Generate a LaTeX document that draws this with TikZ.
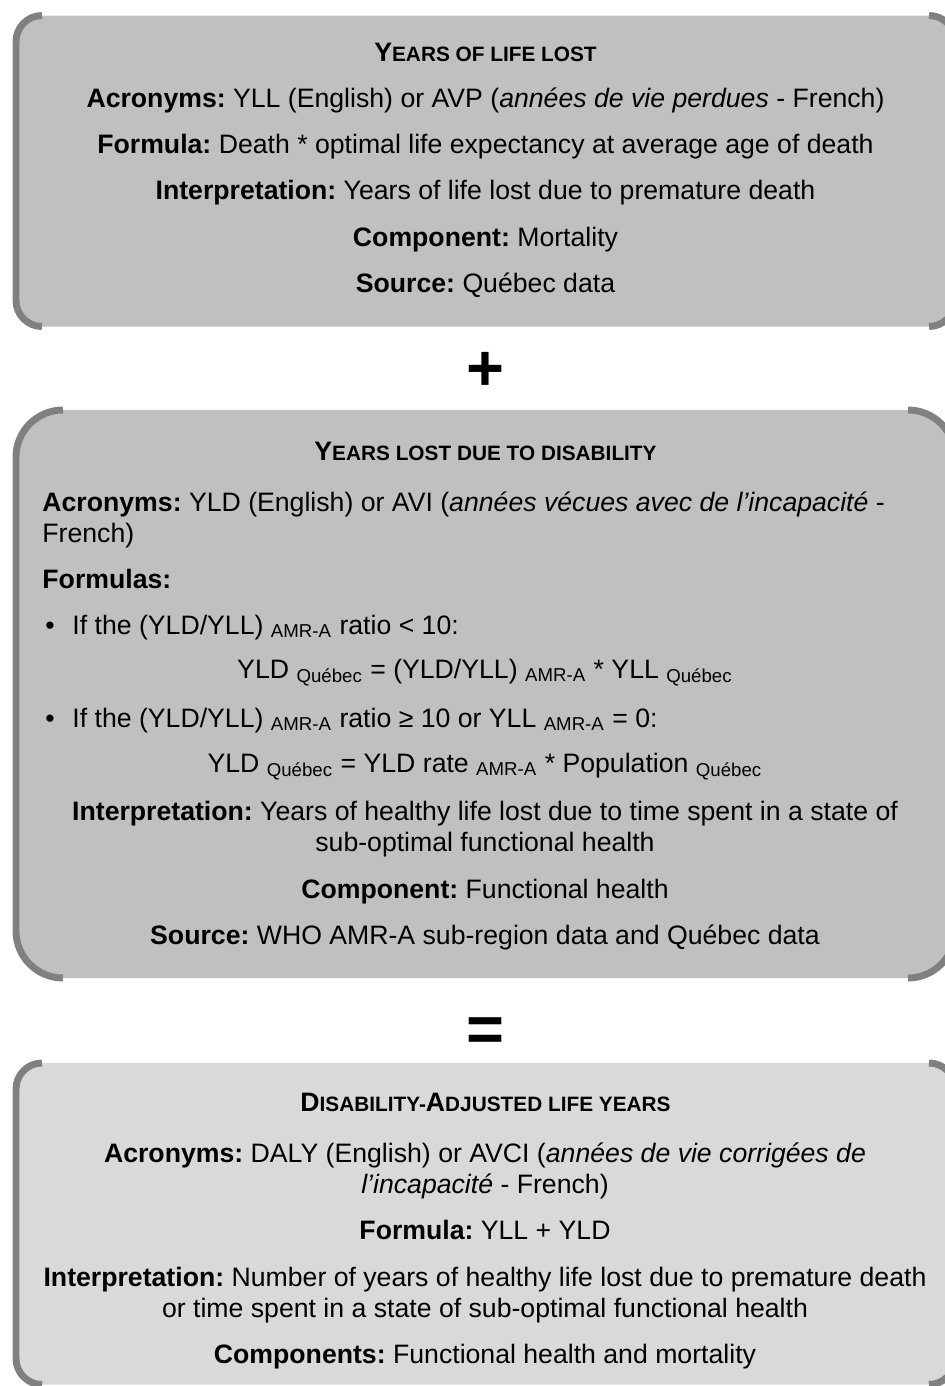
\documentclass[tikz,border=0pt]{standalone}
\usepackage{fontspec}
\setmainfont{Liberation Sans}
\usepackage{xcolor}
\usepackage{tikz}

\definecolor{boxgray}{HTML}{C0C0C0}
\definecolor{boxlight}{HTML}{D9D9D9}
\definecolor{rimgray}{HTML}{808080}
\newcommand{\smallcap}[2]{\textbf{#1{\fontsize{9.6}{11}\selectfont #2}}}
\frenchspacing

\begin{document}
\begin{tikzpicture}[scale=0.1622]
\tikzstyle{every node}+=[inner sep=0pt]
\tikzstyle{rim}=[rimgray, line width=3.2pt]
\tikzstyle{txt}=[anchor=base, font=\fontsize{12.3}{14.7}\selectfont]
\tikzstyle{ltxt}=[anchor=base west, font=\fontsize{12.3}{14.7}\selectfont]
\tikzstyle{sign}=[font=\fontsize{30}{30}\selectfont\bfseries]
\useasboundingbox (0,0) rectangle (94.5,-138.6);
\clip (0,0) rectangle (94.5,-138.6);
% years of life lost
\fill [boxgray, rounded corners=12pt] (1.6,-1.55) rectangle (95.5,-32.65);
\draw [rim] (4.2,-1.55) arc (90:180:2.6) -- (1.6,-30.05) arc (180:270:2.6);
\draw [rim] (92.9,-1.55) arc (90:0:2.6) -- (95.5,-30.05) arc (0:-90:2.6);
\draw (48.55,-6.1) node [txt] (ttlYLL) {\smallcap{Y}{EARS OF LIFE LOST}};
\draw (48.55,-10.7) node [txt] (acrYLL) {\textbf{Acronyms:} YLL (English) or AVP (\textit{années de vie perdues} - French)};
\draw (48.55,-15.3) node [txt] (frmYLL) {\textbf{Formula:} Death * optimal life expectancy at average age of death};
\draw (48.55,-19.95) node [txt] (intYLL) {\textbf{Interpretation:} Years of life lost due to premature death};
\draw (48.55,-24.6) node [txt] (cmpYLL) {\textbf{Component:} Mortality};
\draw (48.55,-29.25) node [txt] (srcYLL) {\textbf{Source:} Québec data};
\draw (48.5,-37.1) node [sign] (plus) {+};
% years lost due to disability
\fill [boxgray, rounded corners=21.7pt] (1.6,-41.0) rectangle (95.5,-97.8);
\draw [rim] (6.3,-41.0) arc (90:180:4.7) -- (1.6,-93.1) arc (180:270:4.7);
\draw [rim] (90.8,-41.0) arc (90:0:4.7) -- (95.5,-93.1) arc (0:-90:4.7);
\draw (48.55,-46.0) node [txt] (ttlYLD) {\smallcap{Y}{EARS LOST DUE TO DISABILITY}};
\draw (4.2,-51.1) node [ltxt] (acrYLDa) {\textbf{Acronyms:} YLD (English) or AVI (\textit{années vécues avec de l’incapacité} -};
\draw (4.2,-54.2) node [ltxt] (acrYLDb) {French)};
\draw (4.2,-58.8) node [ltxt] (frmYLD) {\textbf{Formulas:}};
\draw (5.0,-63.4) node [txt] (dotA) {•};
\draw (7.2,-63.4) node [ltxt] (ifA) {If the (YLD/YLL) \textsubscript{AMR-A} ratio < 10:};
\draw (48.5,-67.8) node [txt] (eqA) {YLD \textsubscript{Québec} = (YLD/YLL) \textsubscript{AMR-A} * YLL \textsubscript{Québec}};
\draw (5.0,-72.7) node [txt] (dotB) {•};
\draw (7.2,-72.7) node [ltxt] (ifB) {If the (YLD/YLL) \textsubscript{AMR-A} ratio ≥ 10 or YLL \textsubscript{AMR-A} = 0:};
\draw (48.5,-77.2) node [txt] (eqB) {YLD \textsubscript{Québec} = YLD rate \textsubscript{AMR-A} * Population \textsubscript{Québec}};
\draw (48.5,-82.05) node [txt] (intYLDa) {\textbf{Interpretation:} Years of healthy life lost due to time spent in a state of};
\draw (48.5,-85.15) node [txt] (intYLDb) {sub-optimal functional health};
\draw (48.5,-89.8) node [txt] (cmpYLD) {\textbf{Component:} Functional health};
\draw (48.5,-94.4) node [txt] (srcYLD) {\textbf{Source:} WHO AMR-A sub-region data and Québec data};
\draw (48.5,-103.5) node [sign] (equal) {=};
% disability-adjusted life years
\fill [boxlight, rounded corners=12pt] (1.6,-106.3) rectangle (95.5,-138.45);
\draw [rim] (4.2,-106.3) arc (90:180:2.6) -- (1.6,-135.85) arc (180:270:2.6);
\draw [rim] (92.9,-106.3) arc (90:0:2.6) -- (95.5,-135.85) arc (0:-90:2.6);
\draw (48.55,-111.1) node [txt] (ttlDALY) {\smallcap{D}{ISABILITY-}\smallcap{A}{DJUSTED LIFE YEARS}};
\draw (48.5,-116.2) node [txt] (acrDALYa) {\textbf{Acronyms:} DALY (English) or AVCI (\textit{années de vie corrigées de}};
\draw (48.5,-119.35) node [txt] (acrDALYb) {\textit{l’incapacité} - French)};
\draw (48.5,-123.9) node [txt] (frmDALY) {\textbf{Formula:} YLL + YLD};
\draw (48.5,-128.6) node [txt] (intDALYa) {\textbf{Interpretation:} Number of years of healthy life lost due to premature death};
\draw (48.5,-131.7) node [txt] (intDALYb) {or time spent in a state of sub-optimal functional health};
\draw (48.5,-136.3) node [txt] (cmpDALY) {\textbf{Components:} Functional health and mortality};
\end{tikzpicture}
\end{document}
